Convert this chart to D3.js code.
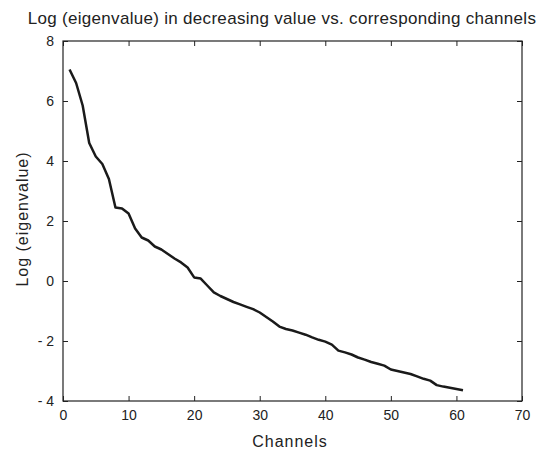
<!DOCTYPE html>
<html>
<head>
<meta charset="utf-8">
<script src="https://cdn.jsdelivr.net/npm/d3@7"></script>
<style>
  body { margin: 0; background: #fff; }
  text { font-family: "Liberation Sans", Arial, sans-serif; fill: #222; }
</style>
</head>
<body>
<div id="chart"></div>
<script>
// channel index and log(eigenvalue), sorted decreasing
const channels = d3.range(1, 62)
const logEig = [
  7.05, 6.6, 5.85, 4.6, 4.15, 3.9, 3.4, 2.45, 2.42, 2.25,
  1.75, 1.45, 1.35, 1.15, 1.05, 0.9, 0.75, 0.62, 0.45, 0.12,
  0.08, -0.15, -0.38, -0.5, -0.6, -0.7, -0.78, -0.86, -0.94, -1.05,
  -1.2, -1.35, -1.52, -1.6, -1.65, -1.72, -1.79, -1.88, -1.96, -2.02,
  -2.12, -2.32, -2.38, -2.45, -2.55, -2.62, -2.7, -2.76, -2.82, -2.95,
  -3.0, -3.05, -3.1, -3.18, -3.26, -3.32, -3.47, -3.52, -3.56, -3.6,
  -3.64
]
const xTicks = [0, 10, 20, 30, 40, 50, 60, 70]
const yTicks = [-4, -2, 0, 2, 4, 6, 8]

const W = 539, H = 452
var margin = { top: 41, right: 17, bottom: 51, left: 63 }
let width = W - margin.left - margin.right
let height = H - margin.top - margin.bottom

const svg = d3.select("#chart").append("svg")
  .attr("width", W).attr("height", H)

const g = svg.append("g")
  .attr("transform", "translate(" + margin.left + "," + margin.top + ")")

var x = d3.scaleLinear().domain([0, 70]).range([0, width])
var y = d3.scaleLinear().domain([-4, 8]).range([height, 0])

// box with inward ticks on all sides (matlab style)
function styleAxis(sel) {
  sel.select(".domain").remove()
  sel.selectAll("line").attr("stroke", "#222")
  sel.selectAll("text").style("font-size", "14px")
}

g.append("g")
  .attr("transform", "translate(0," + height + ")")
  .call(d3.axisBottom(x).tickValues(xTicks).tickSizeInner(-5).tickSizeOuter(0).tickPadding(9))
  .call(styleAxis)
g.append("g")
  .call(d3.axisTop(x).tickValues(xTicks).tickSizeInner(-5).tickSizeOuter(0).tickFormat(""))
  .call(styleAxis)
g.append("g")
  .call(d3.axisLeft(y).tickValues(yTicks).tickSizeInner(-5).tickSizeOuter(0).tickPadding(9)
    .tickFormat(d => d < 0 ? "- " + Math.abs(d) : d))
  .call(styleAxis)
g.append("g")
  .attr("transform", "translate(" + width + ",0)")
  .call(d3.axisRight(y).tickValues(yTicks).tickSizeInner(-5).tickSizeOuter(0).tickFormat(""))
  .call(styleAxis)

g.append("rect")
  .attr("width", width).attr("height", height)
  .attr("fill", "none").attr("stroke", "#222").attr("stroke-width", 1.2)

// the curve
var line = d3.line()
  .x((d, i) => x(channels[i]))
  .y(d => y(d))

g.append("path")
  .datum(logEig)
  .attr("fill", "none")
  .attr("stroke", "#1a1a1a")
  .attr("stroke-width", 2.5)
  .attr("stroke-linejoin", "round")
  .attr("d", line)

// labels
svg.append("text")
  .attr("x", 282).attr("y", 24)
  .attr("text-anchor", "middle")
  .style("font-size", "17px")
  .style("letter-spacing", "0.3px")
  .text("Log (eigenvalue) in decreasing value vs. corresponding channels")

svg.append("text")
  .attr("x", 290).attr("y", 447)
  .attr("text-anchor", "middle")
  .style("font-size", "16px")
  .style("letter-spacing", "1px")
  .text("Channels")

svg.append("text")
  .attr("transform", "translate(28," + 219 + ") rotate(-90)")
  .attr("text-anchor", "middle")
  .style("font-size", "16px")
  .style("letter-spacing", "1px")
  .text("Log (eigenvalue)")
</script>
</body>
</html>
